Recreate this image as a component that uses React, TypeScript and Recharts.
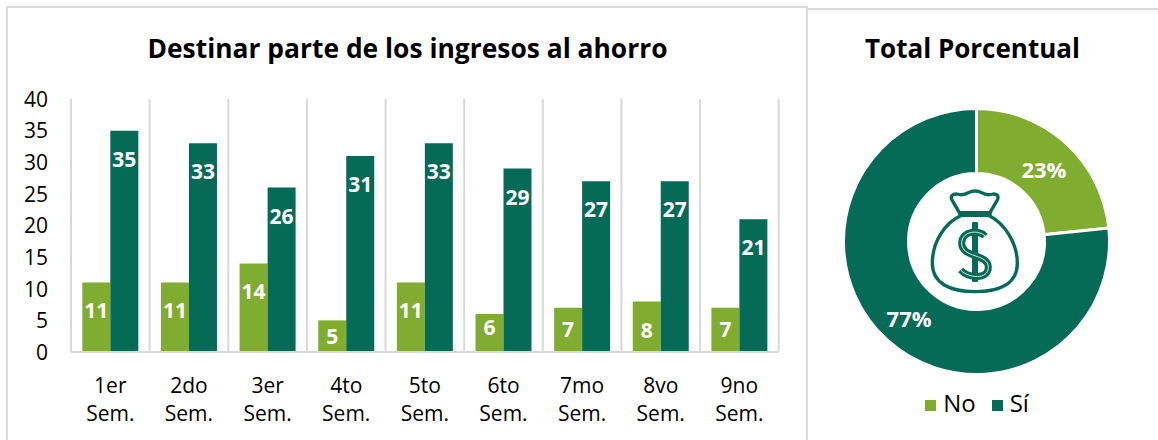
import React from "react";
import { BarChart, Bar, XAxis, YAxis, CartesianGrid, LabelList, PieChart, Pie, Cell, Legend } from "recharts";

const semesters = ["1er Sem.", "2do Sem.", "3er Sem.", "4to Sem.", "5to Sem.", "6to Sem.", "7mo Sem.", "8vo Sem.", "9no Sem."];
const noValues = [11, 11, 14, 5, 11, 6, 7, 8, 7];
const siValues = [35, 33, 26, 31, 33, 29, 27, 27, 21];
const yTicks = [0, 5, 10, 15, 20, 25, 30, 35, 40];
const totalNames = ["No", "Sí"];
const totalValues = [80, 262];

const GREEN = "#80AD2F";
const DARK = "#056B57";
const GRID = "#D9D9D9";
const FONT = "'Open Sans', sans-serif";
const noLabelDrop = [28, 28, 28, 16, 28, 13, 22, 29, 22];
const siLabelDrop = 28.5;

const rows = semesters.map((s, i) => ({ name: s, No: noValues[i], Si: siValues[i] }));
const totals = totalNames.map((n, i) => ({ name: n, value: totalValues[i] }));

const CategoryTick = (props: any) => {
  const { x, y, payload } = props;
  const parts = String(payload.value).split(" ");
  return (
    <text x={x} textAnchor="middle" fontFamily={FONT} fontSize={21} fill="#000">
      <tspan x={x} y={y + 33}>{parts[0]}</tspan>
      <tspan x={x} y={y + 61}>{parts[1]}</tspan>
    </text>
  );
};

const YTick = (props: any) => {
  const { x, y, payload } = props;
  return (
    <text x={x} y={y + 0.4} dy="0.355em" textAnchor="end" fontFamily={FONT} fontSize={21} fill="#000">
      {payload.value}
    </text>
  );
};

const barLabel = (drop: (i: number) => number) => (props: any) => {
  const { x, y, width, value, index } = props;
  return (
    <text x={x + width / 2} y={y + drop(index)} dy="0.36em" textAnchor="middle" fontFamily={FONT} fontSize={21} fontWeight={700} fill="#fff">
      {value}
    </text>
  );
};

const RADIAN = Math.PI / 180;
const pieLabel = (props: any) => {
  const { cx, cy, midAngle, innerRadius, outerRadius, percent } = props;
  const r = (innerRadius + outerRadius) / 2;
  return (
    <text x={cx + r * Math.cos(-midAngle * RADIAN)} y={cy + r * Math.sin(-midAngle * RADIAN) + 3} dy="0.36em" textAnchor="middle" fontFamily={FONT} fontSize={22} fontWeight={700} fill="#fff">
      {`${Math.round(percent * 100)}%`}
    </text>
  );
};

const MoneyBag = () => (
  <svg width={150} height={120} viewBox="0 0 450 360" style={{ position: "absolute", left: 900, top: 180 }} fill="none">
    <path d="M178 98 L155 58 Q150 42 170 42 Q190 48 205 38 Q225 28 245 38 Q260 48 280 42 Q298 42 293 58 L270 98 Z" stroke={DARK} strokeWidth={10} strokeLinejoin="round" />
    <path d="M185 106 C130 130 97 190 97 250 C97 310 150 335 225 335 C300 335 352 310 352 250 C352 190 315 130 265 106 Z" stroke={DARK} strokeWidth={10} strokeLinejoin="round" />
    <rect x={175} y={94} width={100} height={14} fill={DARK} />
    <rect x={216} y={126} width={18} height={180} rx={4} fill={DARK} />
    <path d="M255 168 C240 150 185 150 185 190 C185 235 265 220 265 262 C265 300 205 295 182 270" stroke={DARK} strokeWidth={21} />
    <path d="M255 168 C240 150 185 150 185 190 C185 235 265 220 265 262 C265 300 205 295 182 270" stroke="#fff" strokeWidth={2.5} />
  </svg>
);

const titleStyle: React.CSSProperties = { position: "absolute", fontFamily: FONT, fontWeight: 700, color: "#000", whiteSpace: "nowrap", transform: "translateX(-50%)", lineHeight: "34px" };
const line = (left: number, top: number, width: number, height: number): React.CSSProperties => ({ position: "absolute", left, top, width, height, background: "#DCDCDC" });

export default function App() {
  return (
    <div style={{ position: "fixed", left: 0, top: 0, width: 1158, height: 440, background: "#fff", overflow: "hidden" }}>
      <div style={line(6, 6, 802, 2)} />
      <div style={line(6, 6, 2, 434)} />
      <div style={line(806, 6, 2, 434)} />
      <div style={line(808, 8, 350, 2)} />
      <div style={{ ...titleStyle, left: 407.5, top: 31, fontSize: 26.4 }}>Destinar parte de los ingresos al ahorro</div>
      <div style={{ ...titleStyle, left: 972.5, top: 31, fontSize: 26 }}>Total Porcentual</div>

      <div style={{ position: "absolute", left: 0, top: 0 }}>
        <BarChart width={806} height={440} data={rows} margin={{ top: 99, right: 27.3, bottom: 0, left: 0 }} barCategoryGap="14.4%" barGap={0}>
          <CartesianGrid horizontal={false} stroke={GRID} strokeWidth={2}
            verticalCoordinatesGenerator={({ offset }: any) => semesters.map((_, i) => offset.left + (i + 1) * offset.width / semesters.length).concat(offset.left)} />
          <YAxis type="number" domain={[0, 40]} ticks={yTicks} width={71} axisLine={false} tickLine={false} tickSize={0} tickMargin={23} interval={0}
            tick={<YTick />} />
          <XAxis dataKey="name" height={88} interval={0} tickLine={false} axisLine={{ stroke: GRID, strokeWidth: 2 }} tick={<CategoryTick />} />
          <Bar dataKey="No" fill={GREEN} isAnimationActive={false}>
            <LabelList dataKey="No" content={barLabel((i) => noLabelDrop[i])} />
          </Bar>
          <Bar dataKey="Si" fill={DARK} isAnimationActive={false}>
            <LabelList dataKey="Si" content={barLabel(() => siLabelDrop)} />
          </Bar>
        </BarChart>
      </div>

      <div style={{ position: "absolute", left: 808, top: 0 }}>
        <PieChart width={350} height={440} margin={{ top: 0, right: 0, bottom: 0, left: 0 }}>
          <Pie data={totals} dataKey="value" nameKey="name" cx={168.5} cy={241.5} innerRadius={68} outerRadius={133} startAngle={90} endAngle={-270} stroke="#fff" strokeWidth={3} label={pieLabel} labelLine={false} isAnimationActive={false}>
            <Cell fill={GREEN} />
            <Cell fill={DARK} />
          </Pie>
          <Legend layout="horizontal" iconType="square" iconSize={11}
            wrapperStyle={{ position: "absolute", left: 0, width: 354, top: 386, bottom: "auto", fontFamily: FONT, fontSize: 24 }}
            formatter={(v: string) => <span style={{ color: "#000", marginLeft: 3, marginRight: 6 }}>{v}</span>} />
        </PieChart>
      </div>
      <MoneyBag />
    </div>
  );
}
